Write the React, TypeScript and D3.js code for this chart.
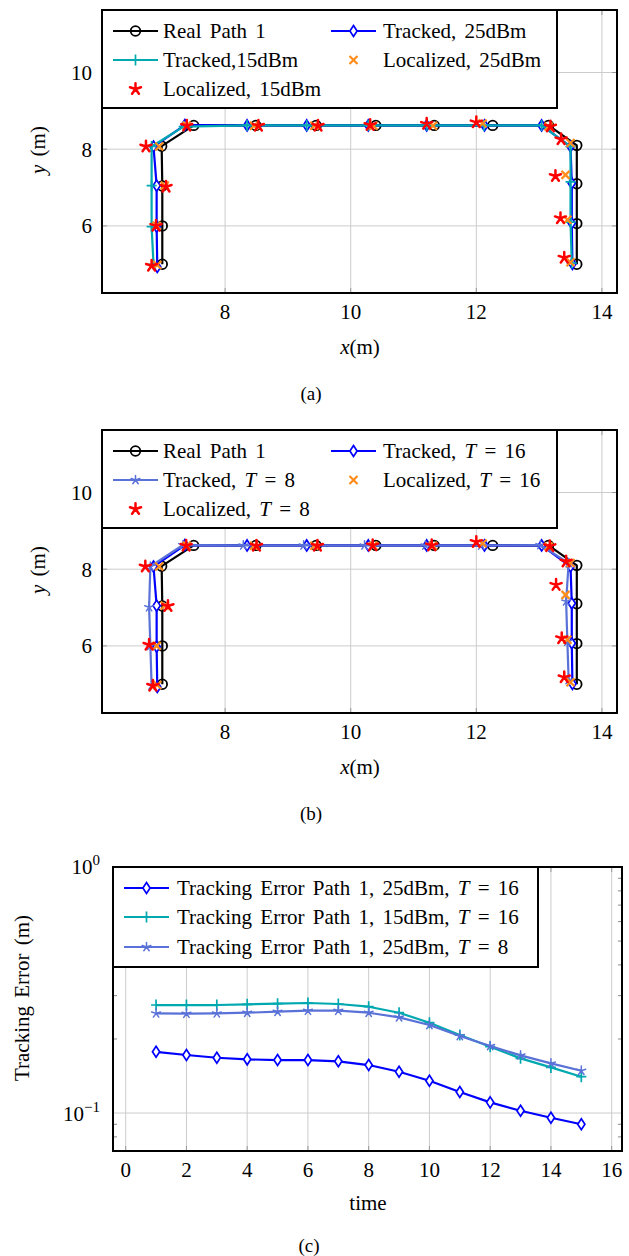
import React from "react";
import * as d3 from "d3";

// ---------- DATA ----------
const realX = [7.0, 7.0, 7.0, 6.99, 7.5, 8.49, 9.45, 10.4, 11.33, 12.26, 13.15, 13.6, 13.6, 13.6, 13.6];
const realY = [5.0, 6.0, 7.04, 8.08, 8.62, 8.62, 8.62, 8.62, 8.62, 8.62, 8.62, 8.1, 7.1, 6.06, 5.0];

const tracked25X = [6.92, 6.91, 6.91, 6.86, 7.36, 8.35, 9.3, 10.28, 11.21, 12.13, 13.04, 13.5, 13.52, 13.52, 13.53];
const tracked25Y = [4.93, 5.98, 7.05, 8.07, 8.63, 8.62, 8.62, 8.62, 8.62, 8.62, 8.62, 8.07, 7.11, 6.07, 5.01];

const tracked15X = [6.86, 6.83, 6.83, 6.83, 7.34, 8.35, 9.3, 10.28, 11.21, 12.12, 13.04, 13.5, 13.5, 13.5, 13.52];
const tracked15Y = [5.0, 5.98, 7.05, 8.07, 8.59, 8.62, 8.62, 8.62, 8.62, 8.62, 8.62, 8.07, 7.15, 6.1, 5.03];

const loc25X = [6.92, 6.91, 7.04, 6.95, 7.39, 8.46, 9.42, 10.36, 11.31, 12.1, 13.15, 13.5, 13.42, 13.45, 13.5];
const loc25Y = [4.98, 6.0, 7.05, 8.07, 8.61, 8.61, 8.61, 8.61, 8.61, 8.67, 8.59, 8.16, 7.33, 6.16, 5.05];

const loc15X = [6.83, 6.9, 7.06, 6.74, 7.39, 8.53, 9.48, 10.31, 11.21, 12.0, 13.18, 13.35, 13.26, 13.34, 13.4];
const loc15Y = [4.96, 6.0, 7.02, 8.07, 8.61, 8.61, 8.61, 8.63, 8.66, 8.7, 8.59, 8.26, 7.3, 6.2, 5.17];

const tracked8X = [6.83, 6.81, 6.79, 6.81, 7.33, 8.29, 9.25, 10.22, 11.19, 12.08, 13.02, 13.47, 13.43, 13.45, 13.47];
const tracked8Y = [4.97, 6.0, 7.01, 8.07, 8.63, 8.62, 8.62, 8.62, 8.62, 8.62, 8.63, 8.16, 7.16, 6.11, 5.11];

const loc8X = [6.85, 6.79, 7.09, 6.73, 7.38, 8.5, 9.47, 10.35, 11.29, 12.0, 13.17, 13.43, 13.27, 13.36, 13.4];
const loc8Y = [4.96, 6.03, 7.04, 8.07, 8.61, 8.61, 8.61, 8.62, 8.62, 8.71, 8.6, 8.2, 7.59, 6.2, 5.18];

const timeSteps = [1, 2, 3, 4, 5, 6, 7, 8, 9, 10, 11, 12, 13, 14, 15];
const err25T16 = [0.1774, 0.1721, 0.1678, 0.1653, 0.1642, 0.1642, 0.1623, 0.1567, 0.1472, 0.1353, 0.1217, 0.1105, 0.1022, 0.0957, 0.09];
const err15T16 = [0.2748, 0.2748, 0.2748, 0.2767, 0.2782, 0.2801, 0.2775, 0.2705, 0.2557, 0.2329, 0.2075, 0.1861, 0.1668, 0.1533, 0.1405];
const err25T8 = [0.2542, 0.2534, 0.2542, 0.2557, 0.2581, 0.2606, 0.2606, 0.2557, 0.2449, 0.2279, 0.2056, 0.1873, 0.1715, 0.1592, 0.1486];

const pathXTicks = [8, 10, 12, 14];
const pathYTicks = [6, 8, 10];
const timeTicks = [0, 2, 4, 6, 8, 10, 12, 14, 16];

const legendA = ["Real Path 1", "Tracked, 25dBm", "Tracked,15dBm", "Localized, 25dBm", "Localized, 15dBm"];
const legendB = ["Real Path 1", "Tracked, T = 16", "Tracked, T = 8", "Localized, T = 16", "Localized, T = 8"];
const legendC = ["Tracking Error Path 1, 25dBm, T = 16", "Tracking Error Path 1, 15dBm, T = 16", "Tracking Error Path 1, 25dBm, T = 8"];

// ---------- STYLE ----------
const FONT = "'Liberation Serif', 'DejaVu Serif', 'Times New Roman', serif";
const FS = 21;
const BLACK = "#000000";
const BLUE = "#0000ff";
const TEAL = "#00a8b0";
const SLATE = "#5a72d8";
const ORANGE = "#ff8c1a";
const RED = "#ff0000";
const GRID = "#cccccc";
const TXT: React.CSSProperties = { fontFamily: FONT, fontSize: FS, wordSpacing: 3 };
const CAP: React.CSSProperties = { fontFamily: FONT, fontSize: 19 };

type MarkType = "circle" | "diamond" | "plus" | "star" | "cross" | "redstar";

function Marker({ type, x, y, color }: { type: MarkType; x: number; y: number; color: string }) {
  if (type === "circle") return <circle cx={x} cy={y} r={4.8} fill="none" stroke={color} strokeWidth={1.8} />;
  if (type === "diamond")
    return (
      <path d={`M${x},${y - 5.5}L${x + 3.6},${y}L${x},${y + 5.5}L${x - 3.6},${y}Z`} fill="white" stroke={color} strokeWidth={1.7} />
    );
  if (type === "plus")
    return <path d={`M${x - 5},${y}H${x + 5}M${x},${y - 5.5}V${y + 5.5}`} stroke={color} strokeWidth={1.7} fill="none" />;
  if (type === "cross")
    return <path d={`M${x - 4},${y - 4}L${x + 4},${y + 4}M${x - 4},${y + 4}L${x + 4},${y - 4}`} stroke={color} strokeWidth={2.2} fill="none" />;
  const r = type === "redstar" ? 5.8 : 4.6;
  const sw = type === "redstar" ? 2.5 : 1.5;
  let d = "";
  for (let i = 0; i < 5; i++) {
    const a = -Math.PI / 2 + (i * 2 * Math.PI) / 5;
    d += `M${x},${y}L${x + r * Math.cos(a)},${y + r * Math.sin(a)}`;
  }
  return <path d={d} stroke={color} strokeWidth={sw} fill="none" strokeLinecap="round" />;
}

function Label({ s }: { s: string }) {
  const i = s.indexOf("T =");
  if (i < 0) return <>{s}</>;
  return (
    <>
      {s.slice(0, i)}
      <tspan fontStyle="italic">T</tspan>
      {" " + s.slice(i + 1)}
    </>
  );
}

type Series = { xs: number[]; ys: number[]; color: string; mark: MarkType; line: boolean };

function PathPanel({ oy, series, labels, tag }: { oy: number; series: Series[]; labels: string[]; tag: string }) {
  const L = 102, R = 617, T = 10 + oy, B = 293 + oy;
  const x = d3.scaleLinear().domain([6.04, 14.24]).range([L, R]);
  const y = d3.scaleLinear().domain([4.25, 11.63]).range([B, T]);
  const legRows = [31, 60, 89].map((v) => v + oy);
  const legCols = [{ l: 113, r: 158, t: 163 }, { l: 331, r: 376, t: 383 }];
  return (
    <g>
      <defs>
        <clipPath id={"clip" + tag}>
          <rect x={L} y={T} width={R - L} height={B - T} />
        </clipPath>
      </defs>
      {pathXTicks.map((t) => (
        <line key={"gx" + t} x1={x(t)} x2={x(t)} y1={T} y2={B} stroke={GRID} strokeWidth={1} />
      ))}
      {pathYTicks.map((t) => (
        <line key={"gy" + t} x1={L} x2={R} y1={y(t)} y2={y(t)} stroke={GRID} strokeWidth={1} />
      ))}
      {pathXTicks.map((t) => (
        <g key={"tx" + t}>
          <line x1={x(t)} x2={x(t)} y1={B} y2={B - 5} stroke="#999" />
          <line x1={x(t)} x2={x(t)} y1={T} y2={T + 5} stroke="#999" />
        </g>
      ))}
      {pathYTicks.map((t) => (
        <g key={"ty" + t}>
          <line x1={L} x2={L + 5} y1={y(t)} y2={y(t)} stroke="#999" />
          <line x1={R} x2={R - 5} y1={y(t)} y2={y(t)} stroke="#999" />
        </g>
      ))}
      <g clipPath={`url(#clip${tag})`}>
        {series.map((s, si) => (
          <g key={si}>
            {s.line && (
              <path
                d={d3.line<number>().x((_, i) => x(s.xs[i])).y((_, i) => y(s.ys[i]))(s.xs) || ""}
                fill="none"
                stroke={s.color}
                strokeWidth={2.2}
                strokeLinejoin="round"
              />
            )}
            {s.xs.map((v, i) => (
              <Marker key={i} type={s.mark} x={x(v)} y={y(s.ys[i])} color={s.color} />
            ))}
          </g>
        ))}
      </g>
      <rect x={L} y={T} width={R - L} height={B - T} fill="none" stroke={BLACK} strokeWidth={2} />
      {/* legend */}
      <rect x={L} y={T} width={455} height={98} fill="white" stroke={BLACK} strokeWidth={2} />
      {series.map((s, i) => {
        const row = Math.floor(i / 2), col = i % 2;
        const c = legCols[col];
        const cy = legRows[row];
        const mid = (c.l + c.r) / 2;
        return (
          <g key={"lg" + i}>
            {s.line && <line x1={c.l} x2={c.r} y1={cy} y2={cy} stroke={s.color} strokeWidth={2.2} />}
            <Marker type={s.mark} x={mid} y={cy} color={s.color} />
            <text x={c.t} y={cy} dy="0.35em" style={TXT}>
              <Label s={labels[i]} />
            </text>
          </g>
        );
      })}
      {pathXTicks.map((t) => (
        <text key={"lx" + t} x={x(t)} y={312 + oy} dy="0.35em" textAnchor="middle" style={TXT}>
          {t}
        </text>
      ))}
      {pathYTicks.map((t) => (
        <text key={"ly" + t} x={92} y={y(t)} dy="0.35em" textAnchor="end" style={TXT}>
          {t}
        </text>
      ))}
      <text x={360} y={347 + oy} dy="0.35em" textAnchor="middle" style={TXT}>
        <tspan fontStyle="italic">x</tspan>(m)
      </text>
      <text transform={`translate(38,${150 + oy}) rotate(-90)`} dy="0.35em" textAnchor="middle" style={TXT}>
        <tspan fontStyle="italic">y</tspan> (m)
      </text>
      <text x={311} y={393 + oy} dy="0.35em" textAnchor="middle" style={CAP}>
        ({tag})
      </text>
    </g>
  );
}

function ErrorPanel() {
  const L = 113, R = 622, T = 867, B = 1151;
  const x = d3.scaleLinear().domain([-0.418, 16.34]).range([L, R]);
  const y = d3.scaleLog().domain([0.0701, 1]).range([B, T]);
  const minor = [0.08, 0.09, 0.2, 0.3, 0.4, 0.5, 0.6, 0.7, 0.8, 0.9];
  const series = [
    { ys: err25T16, color: BLUE, mark: "diamond" as MarkType },
    { ys: err15T16, color: TEAL, mark: "plus" as MarkType },
    { ys: err25T8, color: SLATE, mark: "star" as MarkType },
  ];
  const line = (ys: number[]) => d3.line<number>().x((t) => x(t)).y((_, i) => y(ys[i]))(timeSteps) || "";
  return (
    <g>
      {timeTicks.map((t) => (
        <line key={"g" + t} x1={x(t)} x2={x(t)} y1={T} y2={B} stroke={GRID} />
      ))}
      <line x1={L} x2={R} y1={y(0.1)} y2={y(0.1)} stroke={GRID} />
      {timeTicks.map((t) => (
        <g key={"t" + t}>
          <line x1={x(t)} x2={x(t)} y1={B} y2={B - 5} stroke="#999" />
          <line x1={x(t)} x2={x(t)} y1={T} y2={T + 5} stroke="#999" />
        </g>
      ))}
      {minor.map((m) => (
        <g key={"m" + m}>
          <line x1={L} x2={L + 4} y1={y(m)} y2={y(m)} stroke="#888" />
          <line x1={R} x2={R - 4} y1={y(m)} y2={y(m)} stroke="#888" />
        </g>
      ))}
      {series.map((s, si) => (
        <g key={si}>
          <path d={line(s.ys)} fill="none" stroke={s.color} strokeWidth={2.2} strokeLinejoin="round" />
          {timeSteps.map((t, i) => (
            <Marker key={i} type={s.mark} x={x(t)} y={y(s.ys[i])} color={s.color} />
          ))}
        </g>
      ))}
      <rect x={L} y={T} width={R - L} height={B - T} fill="none" stroke={BLACK} strokeWidth={2} />
      <rect x={L} y={T} width={425} height={100} fill="white" stroke={BLACK} strokeWidth={2} />
      {series.map((s, i) => {
        const cy = [888, 917, 947][i];
        return (
          <g key={"lg" + i}>
            <line x1={124} x2={169} y1={cy} y2={cy} stroke={s.color} strokeWidth={2.2} />
            <Marker type={s.mark} x={146.5} y={cy} color={s.color} />
            <text x={177} y={cy} dy="0.35em" style={TXT}>
              <Label s={legendC[i]} />
            </text>
          </g>
        );
      })}
      {timeTicks.map((t) => (
        <text key={"lx" + t} x={x(t)} y={1170} dy="0.35em" textAnchor="middle" style={TXT}>
          {t}
        </text>
      ))}
      <text x={100} y={874} textAnchor="end" style={TXT}>
        10<tspan fontSize={15} dy={-9}>0</tspan>
      </text>
      <text x={100} y={1121} textAnchor="end" style={TXT}>
        10<tspan fontSize={15} dy={-9}>−1</tspan>
      </text>
      <text x={368} y={1203} dy="0.35em" textAnchor="middle" style={TXT}>
        time
      </text>
      <text transform="translate(22,998) rotate(-90)" dy="0.35em" textAnchor="middle" style={TXT}>
        Tracking Error (m)
      </text>
      <text x={309} y={1245} dy="0.35em" textAnchor="middle" style={CAP}>
        (c)
      </text>
    </g>
  );
}

export default function App() {
  const seriesA: Series[] = [
    { xs: realX, ys: realY, color: BLACK, mark: "circle", line: true },
    { xs: tracked25X, ys: tracked25Y, color: BLUE, mark: "diamond", line: true },
    { xs: tracked15X, ys: tracked15Y, color: TEAL, mark: "plus", line: true },
    { xs: loc25X, ys: loc25Y, color: ORANGE, mark: "cross", line: false },
    { xs: loc15X, ys: loc15Y, color: RED, mark: "redstar", line: false },
  ];
  const seriesB: Series[] = [
    { xs: realX, ys: realY, color: BLACK, mark: "circle", line: true },
    { xs: tracked25X, ys: tracked25Y, color: BLUE, mark: "diamond", line: true },
    { xs: tracked8X, ys: tracked8Y, color: SLATE, mark: "star", line: true },
    { xs: loc25X, ys: loc25Y, color: ORANGE, mark: "cross", line: false },
    { xs: loc8X, ys: loc8Y, color: RED, mark: "redstar", line: false },
  ];
  return (
    <svg width={629} height={1256} style={{ position: "absolute", left: 0, top: 0, background: "white" }}>
      <rect width={629} height={1256} fill="white" />
      <PathPanel oy={0} series={seriesA} labels={legendA} tag="a" />
      <PathPanel oy={420} series={seriesB} labels={legendB} tag="b" />
      <ErrorPanel />
    </svg>
  );
}
